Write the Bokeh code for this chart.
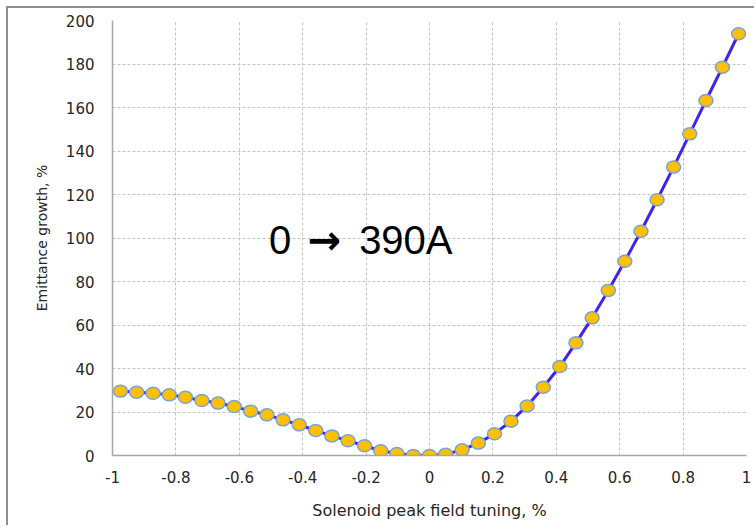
from bokeh.plotting import figure
from bokeh.models import Range1d, FixedTicker, Label, ColumnDataSource
from bokeh.embed import file_html
from bokeh.resources import INLINE

# ---- data ----
x_vals = [-0.975, -0.924, -0.872, -0.821, -0.770, -0.718, -0.667, -0.616, -0.564, -0.513,
          -0.462, -0.411, -0.359, -0.308, -0.257, -0.205, -0.154, -0.103, -0.051, 0.0,
          0.051, 0.103, 0.154, 0.205, 0.257, 0.308, 0.359, 0.411, 0.462, 0.513,
          0.564, 0.616, 0.667, 0.718, 0.770, 0.821, 0.872, 0.924, 0.975]
growth = [29.6, 29.1, 28.6, 27.9, 26.8, 25.3, 24.1, 22.5, 20.4, 18.7,
          16.4, 14.1, 11.5, 9.0, 6.8, 4.5, 2.2, 0.9, 0.0, 0.0,
          0.6, 2.6, 5.7, 10.0, 15.8, 22.8, 31.4, 40.9, 51.8, 63.3,
          75.9, 89.3, 103.1, 117.6, 132.6, 147.9, 163.2, 178.5, 193.9]
x_ticks = [-1, -0.8, -0.6, -0.4, -0.2, 0, 0.2, 0.4, 0.6, 0.8, 1]
x_tick_labels = ["-1", "-0.8", "-0.6", "-0.4", "-0.2", "0", "0.2", "0.4", "0.6", "0.8", "1"]
y_ticks = [0, 20, 40, 60, 80, 100, 120, 140, 160, 180, 200]
x_title = "Solenoid peak field tuning, %"
y_title = "Emittance growth, %"
ann_from, ann_arrow, ann_to = "0", "\u2192", "390A"

src = ColumnDataSource(dict(x=x_vals, y=growth))

p = figure(frame_width=634, frame_height=435,
           min_border_left=104, min_border_right=8, min_border_top=12, min_border_bottom=70,
           x_range=Range1d(-1, 1), y_range=Range1d(0, 200),
           output_backend="svg", toolbar_location=None)
p.styles = {"border-left": "2px solid #8f8f8f", "border-top": "2px solid #8f8f8f",
            "margin-left": "6px", "margin-top": "6px"}
p.outline_line_color = None
p.background_fill_color = "white"
p.border_fill_color = "white"

# grids
for g in (p.xgrid, p.ygrid):
    g.grid_line_color = "#c4c4c4"
    g.grid_line_dash = "3 2"
    g.grid_line_width = 1

# axes
p.xaxis.ticker = FixedTicker(ticks=x_ticks)
p.xaxis.major_label_overrides = dict(zip(x_ticks, x_tick_labels))
p.yaxis.ticker = FixedTicker(ticks=y_ticks)
for ax in (p.xaxis, p.yaxis):
    ax.axis_line_color = "#a6a6a6"
    ax.axis_line_width = 1.5
    ax.major_tick_in = 0
    ax.major_tick_out = 0
    ax.minor_tick_in = 0
    ax.minor_tick_out = 0
    ax.major_label_text_font = "DejaVu Sans"
    ax.major_label_text_font_size = "15px"
    ax.major_label_text_color = "#262626"
    ax.axis_label_text_font = "DejaVu Sans"
    ax.axis_label_text_font_style = "normal"
    ax.axis_label_text_color = "#262626"
p.xaxis.axis_label = x_title
p.yaxis.axis_label = y_title
p.xaxis.axis_label_text_font_size = "16px"
p.yaxis.axis_label_text_font_size = "14px"
p.xaxis.major_label_standoff = 15
p.yaxis.major_label_standoff = 18
p.xaxis.axis_label_standoff = 15
p.yaxis.axis_label_standoff = 13

# series
p.line("x", "y", source=src, line_color="#4422ee", line_width=3)
p.ellipse("x", "y", source=src, width=14, height=12,
          width_units="screen", height_units="screen",
          fill_color="#ffc000", line_color="#7aa3d4", line_width=1.5)

# annotation
common = dict(y=99.3, text_color="black", text_align="left", text_baseline="alphabetic",
              text_font_size="40px")
p.add_layout(Label(x=-0.506, text=ann_from, text_font="Liberation Sans", **common))
p.add_layout(Label(x=-0.384, text=ann_arrow, text_font="DejaVu Sans",
                   text_font_style="bold", **common))
p.add_layout(Label(x=-0.222, text=ann_to, text_font="Liberation Sans", **common))

open("out.html", "w").write(file_html(p, INLINE))
